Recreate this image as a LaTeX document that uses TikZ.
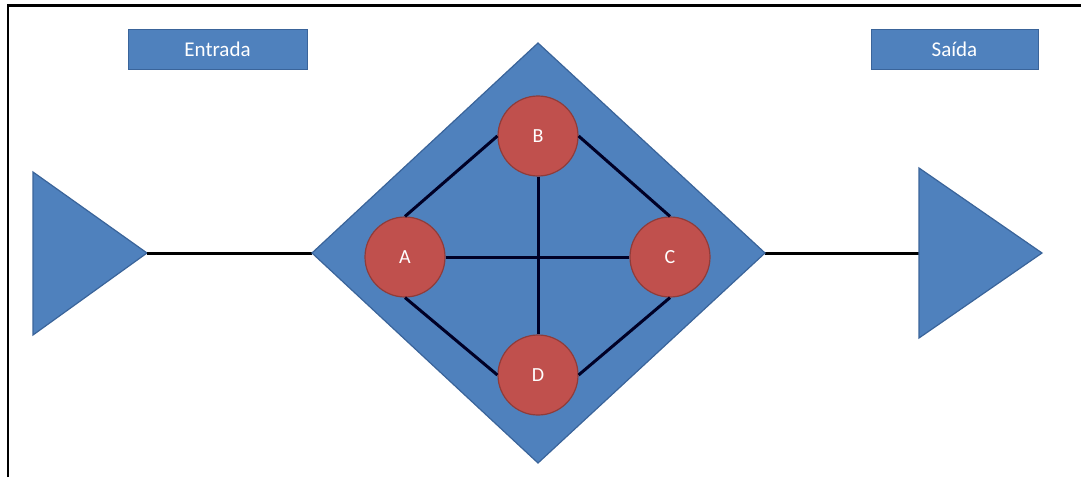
\documentclass[tikz,border=0pt]{standalone}
\usepackage{fontspec}
\setmainfont{Carlito}
\definecolor{offblue}{HTML}{4F81BD}
\definecolor{offblueline}{HTML}{3A649A}
\definecolor{offred}{HTML}{C0504D}
\definecolor{offredline}{HTML}{8F3C3A}
\tikzset{
  labelbox/.style={fill=offblue, draw=offblueline, line width=0.8pt, minimum width=179pt, minimum height=40pt, inner sep=0pt, text=white, font=\fontsize{21}{23}\selectfont},
  vertex/.style={circle, fill=offred, draw=offredline, line width=1.2pt, minimum size=80pt, inner sep=0pt, text=white, font=\fontsize{20}{22}\selectfont},
  shapefill/.style={fill=offblue, draw=offblueline, line width=1.2pt, line join=miter},
  wire/.style={draw=black, line width=3pt},
  edge/.style={draw=black!85!blue, line width=3pt},
  frame/.style={draw=black, line width=2.5pt}
}
\begin{document}
\begin{tikzpicture}[x=1pt,y=-1pt]
\useasboundingbox (0,0) rectangle (1081,477);
% frame
\coordinate (f1) at (8,477);
\coordinate (f2) at (8,5.5);
\coordinate (f3) at (1081,5.5);
\draw[frame] (f1) -- (f2) -- (f3);
% labels
\node[labelbox] (entrada) at (217.5,49) {Entrada};
\node[labelbox, minimum width=167pt] (saida) at (954.5,49) {Saída};
% left triangle
\coordinate (lt1) at (33,172);
\coordinate (lt2) at (33,335);
\coordinate (ltip) at (147,253);
\draw[shapefill] (lt1) -- (ltip) -- (lt2) -- cycle;
% right triangle
\coordinate (rt1) at (919,168);
\coordinate (rt2) at (919,338);
\coordinate (rtip) at (1042,253);
\coordinate (rin) at (919,253);
% diamond
\coordinate (dW) at (312,253);
\coordinate (dN) at (538,43);
\coordinate (dE) at (765,253);
\coordinate (dS) at (538,463);
\draw[wire] (ltip) -- (dW);
\draw[wire] (dE) -- (rin);
\draw[shapefill] (rt1) -- (rtip) -- (rt2) -- cycle;
\draw[shapefill] (dW) -- (dN) -- (dE) -- (dS) -- cycle;
% vertices
\node[vertex] (B) at (538,136) {B};
\node[vertex] (A) at (405,257) {A};
\node[vertex] (C) at (670,257) {C};
\node[vertex] (D) at (538,375) {D};
% edges
\draw[edge] (A.north) -- (B.west);
\draw[edge] (B.east) -- (C.north);
\draw[edge] (C.south) -- (D.east);
\draw[edge] (D.west) -- (A.south);
\draw[edge] (A.east) -- (C.west);
\draw[edge] (B.south) -- (D.north);
\end{tikzpicture}
\end{document}
